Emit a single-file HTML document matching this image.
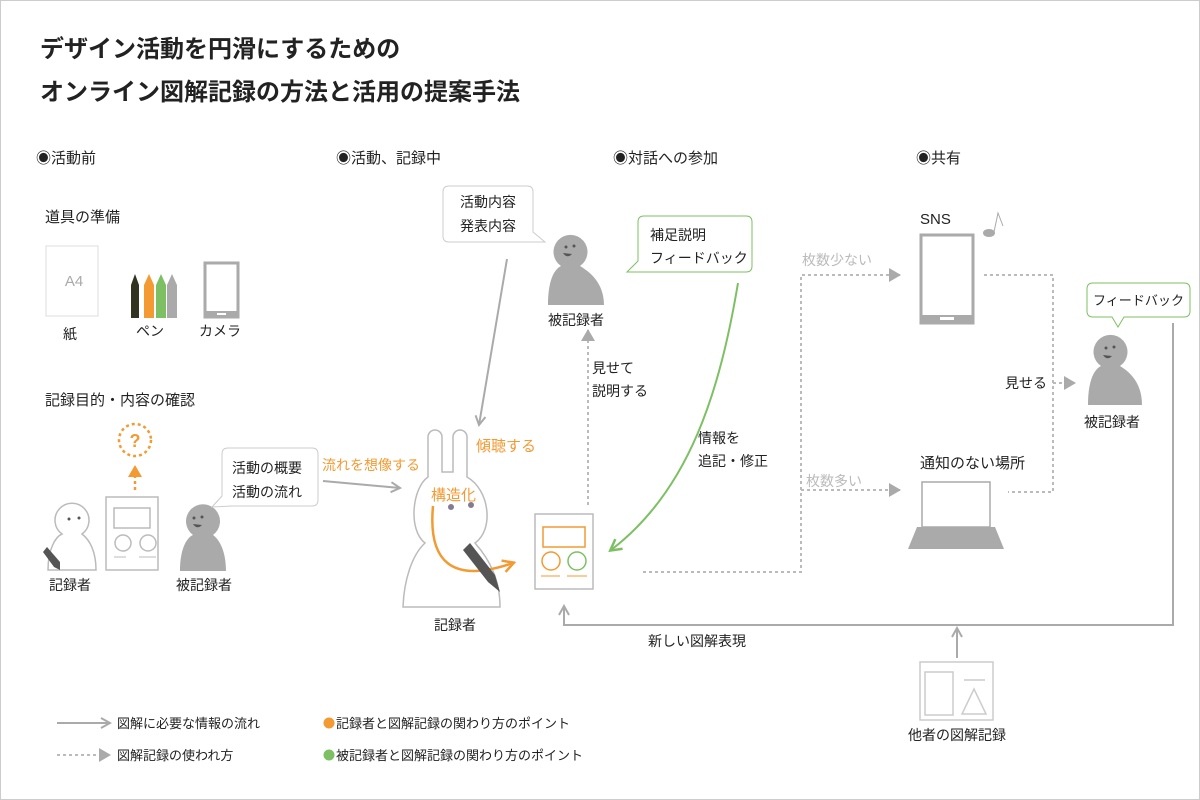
<!DOCTYPE html>
<html><head><meta charset="utf-8"><style>
html,body{margin:0;padding:0;background:#fff}
svg{display:block}
text{font-family:"Liberation Sans","Noto Sans CJK JP",sans-serif;fill:#222}
</style></head><body>
<svg width="1200" height="800" viewBox="0 0 1200 800" xmlns="http://www.w3.org/2000/svg">
<defs>
<marker id="open" markerWidth="12" markerHeight="12" refX="10" refY="6" orient="auto" markerUnits="userSpaceOnUse"><path d="M1,1 L10,6 L1,11" fill="none" stroke="#aaa" stroke-width="2"/></marker>
<marker id="tri" markerWidth="14" markerHeight="14" refX="11" refY="7" orient="auto" markerUnits="userSpaceOnUse"><path d="M0,0 L12,7 L0,14 Z" fill="#aaa"/></marker>
<marker id="triO" markerWidth="14" markerHeight="14" refX="11" refY="7" orient="auto" markerUnits="userSpaceOnUse"><path d="M0,0 L12,7 L0,14 Z" fill="#f39a33"/></marker>
<marker id="openO" markerWidth="14" markerHeight="14" refX="11" refY="7" orient="auto" markerUnits="userSpaceOnUse"><path d="M1,1 L12,7 L1,13" fill="none" stroke="#f39a33" stroke-width="2.5"/></marker>
<marker id="openG" markerWidth="14" markerHeight="14" refX="11" refY="7" orient="auto" markerUnits="userSpaceOnUse"><path d="M1,1 L12,7 L1,13" fill="none" stroke="#7dc063" stroke-width="2.5"/></marker>
</defs>
<rect x="0.5" y="0.5" width="1199" height="799" fill="#fff" stroke="#ccc"/>
<text x="40" y="57" font-size="24" font-weight="bold">デザイン活動を円滑にするための</text>
<text x="40" y="100" font-size="24" font-weight="bold">オンライン図解記録の方法と活用の提案手法</text>
<g font-size="15">
<text x="36" y="163">◉活動前</text>
<text x="336" y="163">◉活動、記録中</text>
<text x="613" y="163">◉対話への参加</text>
<text x="916" y="163">◉共有</text>
<text x="45" y="222">道具の準備</text>
<text x="45" y="405">記録目的・内容の確認</text>
</g>
<!-- tools -->
<rect x="46" y="246" width="52" height="70" fill="#fff" stroke="#ddd"/>
<text x="74" y="286" font-size="15" text-anchor="middle" style="fill:#aaa">A4</text>
<g font-size="14" text-anchor="middle">
<text x="70" y="339">紙</text><text x="150" y="336">ペン</text><text x="220" y="336">カメラ</text>
</g>
<path d="M131,318 V285 L135,274 L139,285 V318Z" fill="#333322"/>
<path d="M144,318 V285 L149,274 L154,285 V318Z" fill="#f39a33"/>
<path d="M156,318 V285 L161,274 L166,285 V318Z" fill="#7dc063"/>
<path d="M167,318 V285 L172,274 L177,285 V318Z" fill="#aaa"/>
<rect x="205" y="263" width="33" height="54" fill="#fff" stroke="#aaa" stroke-width="3"/>
<rect x="205" y="311" width="33" height="6" fill="#aaa"/><rect x="217" y="313" width="9" height="2" fill="#fff"/>
<!-- confirm section -->
<circle cx="135" cy="440" r="16" fill="none" stroke="#f39a33" stroke-width="2.5" stroke-dasharray="3,3"/>
<text x="135" y="447" font-size="18" font-weight="bold" text-anchor="middle" style="fill:#f39a33">?</text>
<line x1="135" y1="490" x2="135" y2="466" stroke="#f39a33" stroke-width="2.5" stroke-dasharray="3,3" marker-end="url(#triO)"/>
<rect x="106" y="497" width="52" height="73" fill="#fff" stroke="#bbb" stroke-width="1.5"/>
<rect x="114" y="508" width="36" height="20" fill="none" stroke="#bbb" stroke-width="1.5"/>
<circle cx="123" cy="543" r="8" fill="none" stroke="#bbb" stroke-width="1.5"/><circle cx="148" cy="543" r="8" fill="none" stroke="#bbb" stroke-width="1.5"/>
<line x1="114" y1="557" x2="126" y2="557" stroke="#bbb"/><line x1="139" y1="557" x2="156" y2="557" stroke="#bbb"/>
<path d="M48,570 C48,550 55,537 62,534 A17,17 0 1 1 82,534 C90,540 96,552 96,570 Z" fill="#fff" stroke="#bbb" stroke-width="1.5"/>
<circle cx="69" cy="519" r="1.5" fill="#555"/><circle cx="79" cy="518" r="1.5" fill="#555"/>
<path d="M43,552 L47,547 L60,562 L60,570 L54,567Z" fill="#555"/>
<text x="70" y="590" font-size="14" text-anchor="middle">記録者</text>
<path d="M180,571 C180,550 186,538 193,535 A17,17 0 1 1 213,535 C220,540 226,552 226,571 Z" fill="#aaa"/>
<circle cx="194" cy="518" r="1.5" fill="#555"/><circle cx="202" cy="517" r="1.5" fill="#555"/><path d="M193,524 Q197,530 202,525Z" fill="#555"/>
<text x="204" y="590" font-size="14" text-anchor="middle">被記録者</text>
<path d="M228,448 H312 Q318,448 318,454 V500 Q318,506 312,506 H232 L212,507 L222,496 V454 Q222,448 228,448Z" fill="#fff" stroke="#ccc"/>
<text x="232" y="473" font-size="14">活動の概要</text><text x="232" y="497" font-size="14">活動の流れ</text>
<text x="322" y="470" font-size="14" style="fill:#f39a33">流れを想像する</text>
<line x1="323" y1="481" x2="400" y2="488" stroke="#aaa" stroke-width="2" marker-end="url(#open)"/>
<!-- rabbit -->
<path d="M403,607 C404,580 412,555 425,543 C408,530 412,488 428,477 V437 A7,7 0 0 1 442,437 V472 H453 V437 A7,7 0 0 1 467,437 V477 C490,490 494,530 475,543 C490,560 500,580 500,607 Z" fill="#fff" stroke="#bbb" stroke-width="1.5"/>
<circle cx="451" cy="507" r="3" fill="#867a93"/><circle cx="471" cy="505" r="3" fill="#867a93"/>
<text x="476" y="451" font-size="15" style="fill:#f39a33">傾聴する</text>
<text x="431" y="500" font-size="15" style="fill:#f39a33">構造化</text>
<path d="M433,506 C428,560 450,585 513,563" fill="none" stroke="#f39a33" stroke-width="2.5" marker-end="url(#openO)"/>
<path d="M463,550 L470,543 L495,575 L500,592 L488,582Z" fill="#555"/>
<text x="455" y="630" font-size="14" text-anchor="middle">記録者</text>
<!-- sheet -->
<rect x="535" y="514" width="58" height="75" fill="#fff" stroke="#bbb" stroke-width="1.5"/>
<rect x="543" y="527" width="42" height="20" fill="none" stroke="#f39a33" stroke-width="1.5"/>
<circle cx="551" cy="561" r="9" fill="none" stroke="#f39a33" stroke-width="1.5"/><circle cx="577" cy="561" r="9" fill="none" stroke="#7dc063" stroke-width="1.5"/>
<line x1="541" y1="576" x2="560" y2="576" stroke="#f39a33"/><line x1="567" y1="576" x2="587" y2="576" stroke="#f39a33"/>
<!-- top middle -->
<path d="M449,186 H527 Q533,186 533,192 V232 L545,242 L530,242 H449 Q443,242 443,236 V192 Q443,186 449,186Z" fill="#fff" stroke="#ccc"/>
<text x="460" y="207" font-size="14">活動内容</text><text x="460" y="231" font-size="14">発表内容</text>
<line x1="507" y1="259" x2="479" y2="425" stroke="#aaa" stroke-width="2" marker-end="url(#open)"/>
<path d="M548,305 C548,283 553,270 561,266 A17,17 0 1 1 580,266 C590,272 604,283 604,305 Z" fill="#aaa"/>
<circle cx="566" cy="247" r="1.5" fill="#555"/><circle cx="574" cy="246" r="1.5" fill="#555"/><path d="M563,253 Q567,259 572,254Z" fill="#555"/>
<text x="576" y="325" font-size="14" text-anchor="middle">被記録者</text>
<line x1="588" y1="505" x2="588" y2="330" stroke="#bbb" stroke-width="2" stroke-dasharray="3,3" marker-end="url(#tri)"/>
<text x="592" y="373" font-size="14">見せて</text><text x="592" y="396" font-size="14">説明する</text>
<path d="M644,216 H746 Q752,216 752,222 V266 Q752,272 746,272 H646 L627,272 L638,261 V222 Q638,216 644,216Z" fill="#fff" stroke="#7dc063"/>
<text x="650" y="240" font-size="14">補足説明</text><text x="650" y="263" font-size="14">フィードバック</text>
<path d="M738,283 C720,390 690,490 611,550" fill="none" stroke="#7dc063" stroke-width="2" marker-end="url(#openG)"/>
<text x="698" y="443" font-size="14">情報を</text><text x="698" y="466" font-size="14">追記・修正</text>
<!-- share -->
<g fill="none" stroke="#bbb" stroke-width="2" stroke-dasharray="3,3">
<path d="M643,572 H801 V275 H900" marker-end="url(#tri)"/>
<path d="M801,490 H900" marker-end="url(#tri)"/>
<path d="M984,275 H1053 V492 H1008"/>
<path d="M1053,383 H1075" marker-end="url(#tri)"/>
</g>
<text x="802" y="265" font-size="14" style="fill:#bbb">枚数少ない</text>
<text x="806" y="486" font-size="14" style="fill:#bbb">枚数多い</text>
<text x="920" y="224" font-size="15">SNS</text>
<rect x="921" y="235" width="52" height="88" fill="#fff" stroke="#aaa" stroke-width="3"/>
<rect x="921" y="315" width="52" height="8" fill="#aaa"/><rect x="940" y="317" width="14" height="3" fill="#fff"/>
<ellipse cx="989" cy="233" rx="6" ry="4" fill="#aaa"/><path d="M994,232 L998,213 L1003,226" fill="none" stroke="#aaa"/>
<text x="1005" y="388" font-size="14">見せる</text>
<text x="920" y="468" font-size="15">通知のない場所</text>
<rect x="922" y="482" width="68" height="45" fill="#fff" stroke="#aaa" stroke-width="1.5"/>
<path d="M917,527 H995 L1004,549 H908Z" fill="#aaa"/>
<path d="M1093,283 H1184 Q1190,283 1190,289 V311 Q1190,317 1184,317 H1124 L1118,327 L1112,317 H1093 Q1087,317 1087,311 V289 Q1087,283 1093,283Z" fill="#fff" stroke="#7dc063"/>
<text x="1093" y="305" font-size="13" textLength="91" lengthAdjust="spacingAndGlyphs">フィードバック</text>
<path d="M1088,405 C1088,383 1093,370 1101,366 A17,17 0 1 1 1120,366 C1130,372 1142,383 1142,405 Z" fill="#aaa"/>
<circle cx="1106" cy="348" r="1.5" fill="#555"/><circle cx="1114" cy="347" r="1.5" fill="#555"/><path d="M1103,355 Q1107,361 1112,356Z" fill="#555"/>
<text x="1112" y="427" font-size="14" text-anchor="middle">被記録者</text>
<path d="M1173,323 V625 H564 V606" fill="none" stroke="#aaa" stroke-width="2" marker-end="url(#open)"/>
<line x1="957" y1="658" x2="957" y2="628" stroke="#aaa" stroke-width="2" marker-end="url(#open)"/>
<text x="648" y="646" font-size="14">新しい図解表現</text>
<rect x="920" y="662" width="73" height="58" fill="#fff" stroke="#ccc" stroke-width="1.5"/>
<rect x="925" y="672" width="28" height="43" fill="none" stroke="#ccc" stroke-width="1.5"/>
<line x1="964" y1="680" x2="985" y2="680" stroke="#ccc" stroke-width="1.5"/>
<path d="M974,689 L986,714 H962Z" fill="none" stroke="#ccc" stroke-width="1.5"/>
<text x="957" y="740" font-size="14" text-anchor="middle">他者の図解記録</text>
<!-- legend -->
<line x1="57" y1="723" x2="110" y2="723" stroke="#aaa" stroke-width="2" marker-end="url(#open)"/>
<text x="117" y="728" font-size="13">図解に必要な情報の流れ</text>
<line x1="57" y1="755" x2="110" y2="755" stroke="#bbb" stroke-width="2" stroke-dasharray="3,3" marker-end="url(#tri)"/>
<text x="117" y="760" font-size="13">図解記録の使われ方</text>
<circle cx="329" cy="723" r="5.5" fill="#f39a33"/><text x="336" y="728" font-size="13">記録者と図解記録の関わり方のポイント</text>
<circle cx="329" cy="755" r="5.5" fill="#7dc063"/><text x="336" y="760" font-size="13">被記録者と図解記録の関わり方のポイント</text>
</svg>
</body></html>
